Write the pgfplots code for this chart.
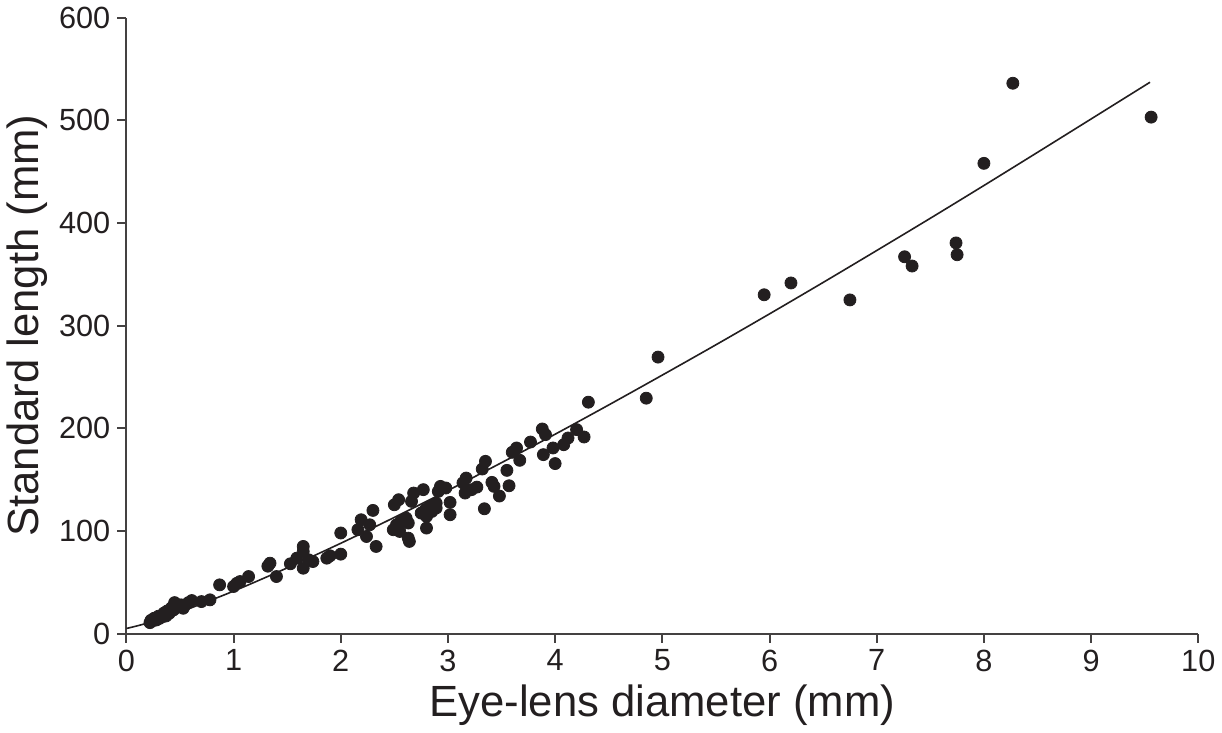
\documentclass[border=0pt]{standalone}
\usepackage{pgfplots}
\pgfplotsset{compat=1.18}
\usepackage{fontspec}
\setmainfont{Liberation Sans}
\definecolor{ink}{RGB}{35,31,32}
\begin{document}
\begin{tikzpicture}
\begin{axis}[
  scale only axis,
  width=535pt, height=307.5pt,
  xmin=0, xmax=10, ymin=0, ymax=600,
  axis lines=left,
  axis line style={-, line width=1pt, color=ink!85},
  xtick={0,1,...,10}, ytick={0,100,...,600},
  tick align=outside, major tick length=4.5pt,
  tick style={line width=1pt, color=ink!85},
  /pgf/number format/assume math mode=true,
  ticklabel style={font=\fontsize{15.3}{18}\selectfont, color=ink},
  xlabel={Eye-lens diameter (mm)},
  ylabel={Standard length (mm)},
  label style={font=\fontsize{21.8}{24}\selectfont, color=ink},
  xlabel style={yshift=0pt},
  ylabel style={yshift=-1pt},
  clip=false,
]
% fitted curve
\addplot[color=ink, line width=0.8pt, smooth] coordinates {
  (0,5) (0.2,10.4) (0.5,21) (1,41.4) (1.5,64) (2,88) (2.5,113.2) (3,139.4)
  (3.5,166.5) (4,194.2) (4.5,222.7) (5,251.8) (5.5,281.3) (6,311.4)
  (6.5,342) (7,373.1) (7.5,404.5) (8,436.4) (8.5,468.7) (9,501.2) (9.55,537)
};
% measured specimens
\addplot[only marks, mark=*, mark size=3pt, color=ink] coordinates {
  (9.56,503) (8.27,536) (8.0,458) (7.74,380.5) (7.75,369) (7.26,367) (7.33,358)
  (6.75,325) (6.2,341.5) (5.95,330) (4.96,269.3) (4.85,229.3) (4.31,225.4)
  (4.20,198.7) (4.27,191.5) (4.12,190.5) (4.08,184) (3.98,180.8) (3.89,174.3)
  (3.88,199.3) (3.91,193.8) (4.0,165.6) (3.77,186.6) (3.64,180.8) (3.60,176.6)
  (3.67,168.8) (3.55,159) (3.57,144) (3.48,134) (3.34,121.6) (3.35,167.8)
  (3.32,160.3) (3.41,147.3) (3.43,143.4) (3.17,151.5) (3.14,146.8) (3.27,142.7)
  (3.22,140.2) (3.16,136.9) (3.02,127.8) (3.02,115.8) (2.93,143.4) (2.98,141.8)
  (2.91,138.5) (2.89,127.1) (2.83,123.9) (2.89,122.3) (2.79,120.7) (2.75,117.4)
  (2.80,114.1) (2.85,119.0) (2.80,102.8) (2.77,140.2) (2.68,136.9) (2.66,128.8)
  (2.54,130.4) (2.50,125.5) (2.61,112.5) (2.56,109.3) (2.52,106.0) (2.63,107.7)
  (2.49,101.2) (2.55,99.5) (2.63,93.0) (2.64,89.8) (2.30,120) (2.19,110.9)
  (2.16,101.2) (2.27,106) (2.24,94.6) (2.33,84.9) (2.0,98) (2.0,77.4)
  (1.87,73.5) (1.90,75.8) (1.65,84.9) (1.65,80) (1.59,73.5) (1.70,71.9)
  (1.65,63.7) (1.74,70.2) (1.53,68) (1.34,68.6) (1.32,65.7) (1.40,55.6)
  (1.14,55.6) (1.06,50.7) (1.0,45.9) (1.03,49) (0.87,47.5) (0.78,32.9)
  (0.70,31.2) (0.61,32.2) (0.58,30.2) (0.51,28.0) (0.45,30.2) (0.53,24.7)
  (0.47,25.7) (0.44,23.1) (0.40,19.8) (0.37,17.2) (0.34,16.6) (0.31,14.9)
  (0.28,13.3) (0.25,12.7) (0.22,10.7) (0.23,13) (0.26,15) (0.30,17)
  (0.35,20) (0.38,22) (0.42,25) (0.48,28) (0.55,28)
};
\end{axis}
\end{tikzpicture}
\end{document}
